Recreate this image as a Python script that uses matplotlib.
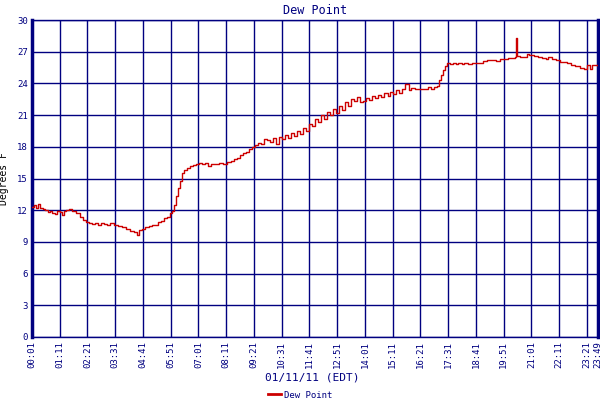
import matplotlib
matplotlib.use("Agg")
import matplotlib.pyplot as plt
from matplotlib.lines import Line2D

# minutes after midnight, 01/11/11
minutes = [1, 6, 11, 16, 21, 29, 34, 41, 46, 51, 59, 64, 71, 76, 82, 87, 94, 102,
           112, 122, 130, 137, 145, 152, 160, 168, 175, 183, 190, 198, 208, 218,
           228, 238, 248, 258, 266, 271, 279, 286, 296, 304, 311, 319, 326, 334,
           342, 349, 354, 359, 364, 369, 374, 379, 384, 392, 400, 407, 415, 422,
           430, 437, 445, 453, 463, 473, 483, 493, 503, 511, 518, 526, 533, 541,
           548, 556, 564, 571, 579, 586, 594, 601, 609, 617, 624, 632, 639, 647,
           655, 662, 670, 677, 685, 693, 700, 708, 715, 723, 731, 738, 746, 753,
           761, 768, 776, 784, 791, 799, 806, 814, 822, 829, 837, 844, 852, 860,
           867, 875, 882, 890, 898, 905, 913, 920, 928, 935, 943, 951, 958, 968,
           981, 991, 999, 1007, 1014, 1022, 1027, 1032, 1037, 1042, 1047, 1055,
           1062, 1070, 1077, 1085, 1092, 1100, 1110, 1120, 1130, 1140, 1150, 1161,
           1171, 1181, 1191, 1201, 1211, 1219, 1221, 1224, 1231, 1241, 1249, 1256,
           1267, 1277, 1287, 1297, 1304, 1312, 1322, 1332, 1342, 1352, 1362, 1372,
           1383, 1393, 1400, 1408, 1415, 1423, 1429]
dew_point = [12.3, 12.5, 12.2, 12.6, 12.2, 12.1, 12.0, 11.8, 11.9, 11.7, 11.6, 11.9,
             11.8, 11.5, 11.9, 12.0, 12.1, 11.9, 11.7, 11.4, 11.1, 10.9, 10.8, 10.7,
             10.8, 10.6, 10.8, 10.7, 10.6, 10.8, 10.6, 10.5, 10.4, 10.2, 10.0, 9.9,
             9.7, 10.1, 10.2, 10.4, 10.5, 10.6, 10.6, 10.9, 11.0, 11.3, 11.4, 11.7,
             11.9, 12.5, 13.3, 14.1, 14.8, 15.5, 15.8, 16.0, 16.2, 16.3, 16.4, 16.5,
             16.4, 16.5, 16.2, 16.4, 16.4, 16.5, 16.4, 16.6, 16.7, 16.8, 16.9, 17.2,
             17.4, 17.5, 17.8, 18.0, 18.2, 18.4, 18.3, 18.7, 18.6, 18.5, 18.8, 18.3,
             18.9, 18.7, 19.1, 18.8, 19.3, 19.0, 19.5, 19.2, 19.8, 19.5, 20.2, 20.0,
             20.6, 20.3, 21.0, 20.6, 21.3, 21.0, 21.6, 21.2, 21.9, 21.5, 22.2, 21.9,
             22.5, 22.3, 22.7, 22.2, 22.3, 22.6, 22.4, 22.8, 22.6, 22.9, 22.7, 23.1,
             22.8, 23.2, 23.0, 23.4, 23.1, 23.5, 23.9, 23.4, 23.6, 23.5, 23.5, 23.5,
             23.7, 23.5, 23.7, 23.8, 24.3, 24.8, 25.3, 25.6, 25.9, 25.8, 25.9, 25.8,
             25.9, 25.8, 25.9, 25.8, 25.9, 25.9, 25.9, 26.1, 26.2, 26.2, 26.1, 26.3,
             26.3, 26.4, 26.4, 26.5, 28.3, 26.6, 26.5, 26.5, 26.8, 26.7, 26.6, 26.5,
             26.4, 26.3, 26.5, 26.3, 26.2, 26.0, 26.0, 25.9, 25.7, 25.6, 25.5, 25.4,
             25.7, 25.4, 25.7, 25.7, 25.6]

tick_minutes = [1, 71, 141, 211, 281, 351, 421, 491, 561, 631, 701, 771, 841, 911,
                981, 1051, 1121, 1191, 1261, 1331, 1401, 1429]
tick_labels = ["00:01", "01:11", "02:21", "03:31", "04:41", "05:51", "07:01",
               "08:11", "09:21", "10:31", "11:41", "12:51", "14:01", "15:11",
               "16:21", "17:31", "18:41", "19:51", "21:01", "22:11", "23:21", "23:49"]
y_ticks = [0, 3, 6, 9, 12, 15, 18, 21, 24, 27, 30]

navy = "#000080"
red = "#cc0000"
mono = "DejaVu Sans Mono"

fig = plt.figure(figsize=(6, 4), dpi=100)
ax = fig.add_axes([32 / 600, 1 - 337 / 400, 566 / 600, 317 / 400])

ax.plot(minutes, dew_point, color=red, linewidth=1.0, drawstyle="steps-post", zorder=3)

ax.set_xlim(1, 1429)
ax.set_ylim(0, 30)
ax.set_xticks(tick_minutes)
ax.set_xticklabels(tick_labels, rotation=90, fontsize=6.5, family=mono, color=navy)
ax.set_yticks(y_ticks)
ax.set_yticklabels([str(v) for v in y_ticks], fontsize=6.5, family=mono, color=navy)
ax.tick_params(length=0, pad=3)
ax.grid(True, color=navy, linewidth=1.0)

for s in ["top", "bottom"]:
    ax.spines[s].set_color(navy)
    ax.spines[s].set_linewidth(1.0)
for s in ["left", "right"]:
    ax.spines[s].set_color(navy)
    ax.spines[s].set_linewidth(2.5)

ax.set_title("Dew Point", fontsize=8.5, family=mono, color=navy, pad=4)
ax.set_ylabel("Degrees F", fontsize=7, family=mono, color="black", labelpad=6)
fig.text(0.52, 1 - 378 / 400, "01/11/11 (EDT)", fontsize=8, family=mono,
         color=navy, ha="center", va="center")

handle = Line2D([], [], color=red, linewidth=2)
fig.legend([handle], ["Dew Point"], loc="center", bbox_to_anchor=(0.5, 1 - 395 / 400),
           frameon=False, prop={"family": mono, "size": 6.5}, handlelength=1.5,
           handletextpad=0.3, labelcolor=navy)

fig.savefig("out.png", dpi=100)
